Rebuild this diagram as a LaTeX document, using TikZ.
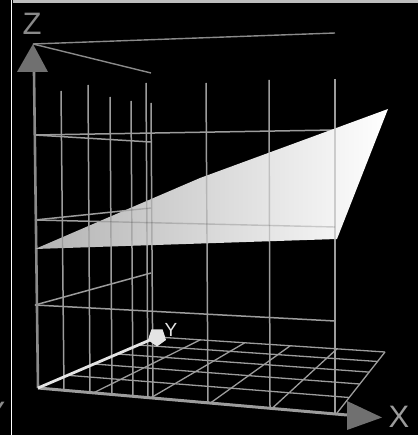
\documentclass[tikz,border=0pt]{standalone}
\usepackage{fontspec}
\setmainfont{Liberation Sans}
\usetikzlibrary{shapes.geometric}
\definecolor{gridgray}{HTML}{9C9C9C}
\definecolor{axisgray}{HTML}{8A8A8A}
\definecolor{conegray}{HTML}{707070}
\definecolor{bandgray}{HTML}{BDBDBD}
\definecolor{ywhite}{HTML}{E4E4E4}
\begin{document}
\begin{tikzpicture}[x=1pt,y=-1pt,
  gridline/.style={draw=gridgray, line width=1.5pt},
  floorline/.style={draw=gridgray, line width=1.3pt},
  topline/.style={draw=axisgray, line width=1.4pt},
  ghost/.style={draw=black, draw opacity=0.16, line width=1.4pt},
  axislabel/.style={text=axisgray, inner sep=0pt, font=\fontsize{31}{31}\selectfont}]
\useasboundingbox (0,0) rectangle (418,435);
\fill[black] (0,0) rectangle (418,435);
% frame pieces
\fill[bandgray] (13,0) rectangle (418,3);
\draw[white, line width=1.8pt] (11.5,0) -- (11.5,435);
\node[axislabel, anchor=base] (ycut) at (-5,423) {Y};

% key points
\coordinate (O) at (38,388);
\coordinate (Ztop) at (33,44);
\coordinate (Zbase) at (34,72);
\coordinate (Xf) at (337,413);
\coordinate (Xbase) at (347,415);
\coordinate (Yb) at (157,337);
\coordinate (XYb) at (385,352);

% vertical grid lines (down to the front edge)
\foreach \bx/\tx/\ty in {64/61/91, 90/88/85, 112/110/97, 133/131/101, 148/146/83,
                         153/151/103, 208/206/83, 270/269/80, 335/335/79}{
  \draw[gridline] (\tx,\ty) -- (\bx,{388+0.0836*(\bx-38)});
}
% front wall horizontal lines
\draw[gridline] (35,305) -- (335,321);
\draw[gridline] (35,220) -- (335,227);
\draw[gridline] (35,135) -- (335,130);
\draw[topline]  (Ztop) -- (335,33);
% left wall horizontal lines
\draw[gridline] (35,305) -- (151,273);
\draw[gridline] (35,220) -- (151,208);
\draw[gridline] (35,135) -- (151,142);
\draw[topline]  (Ztop) -- (151,73);

% floor grid
\draw[floorline] (67.7,375.3) -- (349.2,397.5);
\draw[floorline] (93.9,364) -- (359.8,384);
\draw[floorline] (117.3,354) -- (369.2,372.1);
\draw[floorline] (138.2,345) -- (377.5,361.5);
\draw[floorline] (Yb) -- (XYb);
\draw[floorline] (93.8,392.7) -- (200.3,339.8);
\draw[floorline] (151.4,397.5) -- (244.7,342.8);
\draw[floorline] (211.1,402.5) -- (290.2,345.8);
\draw[floorline] (272.9,407.6) -- (337,348.8);
\draw[floorline] (Xf) -- (XYb);

% axes
\draw[draw=axisgray, line width=2.6pt] (O) -- (Zbase);
\fill[conegray] (17,72) -- (Ztop) -- (48,72) -- cycle;
\draw[draw=gridgray, line width=3pt] (O) -- (Xbase);
\fill[conegray] (347,401) -- (382,417.5) -- (347,430) -- cycle;
\draw[draw=ywhite, line width=2.8pt] (O) -- (Yb);
\node[regular polygon, regular polygon sides=5, shape border rotate=180,
      fill=ywhite, inner sep=0pt, minimum size=19pt] (ymark) at (Yb) {};

% labels
\node[axislabel] (zlab) at (32,24) {Z};
\node[axislabel, text=gridgray] (xlab) at (399,417) {X};
\node[text=ywhite, inner sep=0pt, font=\fontsize{19}{19}\selectfont] (ylab) at (171,330) {Y};

% plane
\coordinate (P1) at (35,249);
\coordinate (P2) at (337,239);
\coordinate (P3) at (388,109);
\coordinate (P4) at (200,178);
\coordinate (P5) at (100,221);
\shade[left color=black!30, right color=white] (P1) -- (P2) -- (P3) -- (P4) -- (P5) -- cycle;
\begin{scope}
  \clip (P1) -- (P2) -- (P3) -- (P4) -- (P5) -- cycle;
  \foreach \bx/\tx/\ty in {64/61/91, 90/88/85, 112/110/97, 133/131/101, 148/146/83,
                           153/151/103, 208/206/83, 270/269/80, 335/335/79}{
    \draw[ghost] (\tx,\ty) -- (\bx,{388+0.0836*(\bx-38)});
  }
  \draw[ghost] (35,220) -- (335,227);
  \draw[ghost] (35,220) -- (151,208);
\end{scope}
\end{tikzpicture}
\end{document}
